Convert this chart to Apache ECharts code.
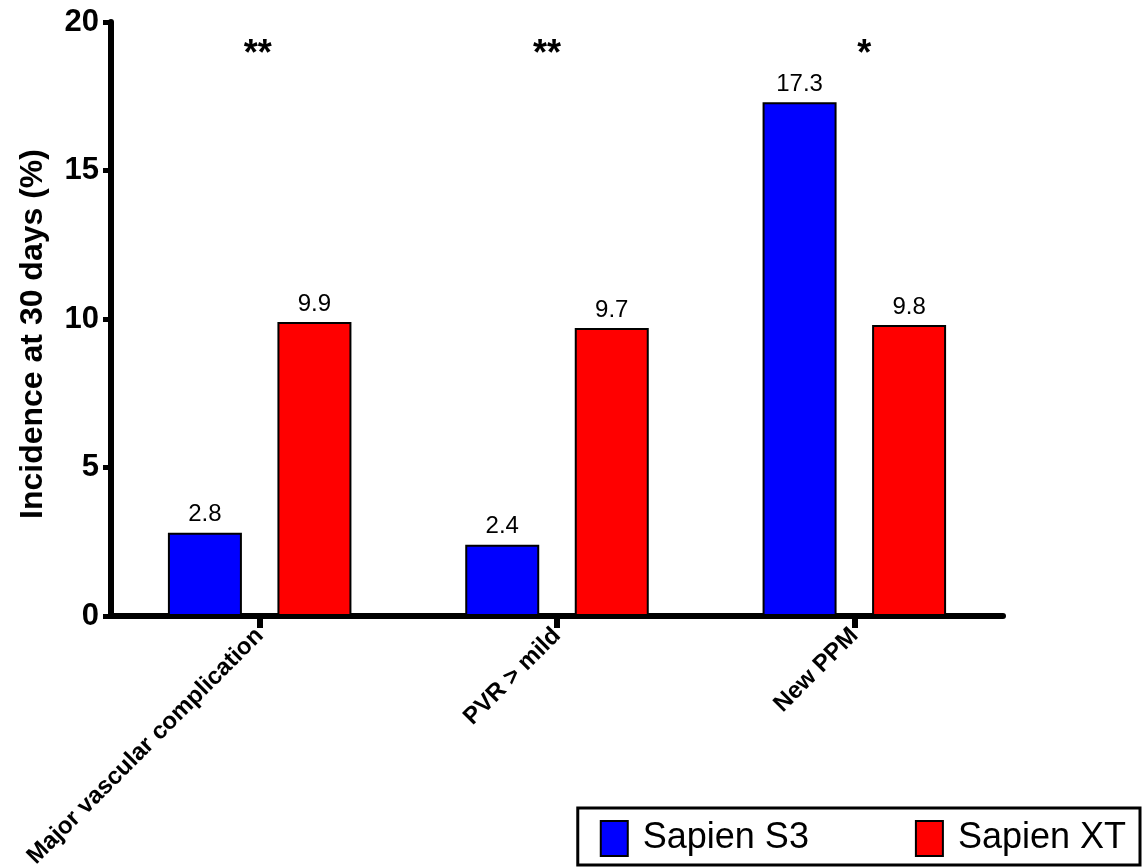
<!DOCTYPE html>
<html>
<head>
<meta charset="utf-8">
<script src="https://cdn.jsdelivr.net/npm/echarts@6/dist/echarts.min.js"></script>
<style>
html,body{margin:0;padding:0;background:#fff;}
#chart{width:1147px;height:867px;}
</style>
</head>
<body>
<div id="chart"></div>
<script>
var categories = ['Major vascular complication', 'PVR > mild', 'New PPM'];
var sapienS3 = [2.8, 2.4, 17.3];
var sapienXT = [9.9, 9.7, 9.8];
var sigMarks = ['**', '**', '*'];
var sigLevel = [19, 19, 19];
var yTicks = [0, 5, 10, 15, 20];

var FONT = 'Liberation Sans, Arial, Helvetica, sans-serif';
var chart = echarts.init(document.getElementById('chart'));
var sigOffsets = [-2, -10, 10];

chart.setOption({
  animation: false,
  backgroundColor: '#fff',
  grid: { left: 111, right: 144, top: 22, bottom: 251, containLabel: false, outerBoundsMode: 'none' },
  legend: {
    data: ['Sapien S3', 'Sapien XT'],
    right: 7, bottom: 2,
    orient: 'horizontal',
    borderColor: '#000', borderWidth: 3,
    padding: [12, 14, 8, 22],
    itemWidth: 27, itemHeight: 35, itemGap: 106,
    icon: 'rect',
    textStyle: { fontFamily: FONT, fontSize: 36, color: '#000', padding: [0, 0, 0, 10] }
  },
  xAxis: {
    type: 'category',
    data: categories,
    axisLine: { lineStyle: { color: '#000', width: 6 } },
    axisTick: { show: true, alignWithLabel: true, length: 12, lineStyle: { color: '#000', width: 6 } },
    axisLabel: { rotate: 45, interval: 0, margin: 16, color: '#000', fontFamily: FONT, fontWeight: 'bold', fontSize: 24 },
    splitLine: { show: false }
  },
  yAxis: {
    type: 'value',
    min: 0, max: 20, interval: 5,
    name: 'Incidence at 30 days (%)',
    nameLocation: 'middle',
    nameGap: 62,
    nameTextStyle: { fontFamily: FONT, fontWeight: 'bold', fontSize: 32, color: '#000', padding: [0, 30, 0, 0] },
    axisLine: { show: true, lineStyle: { color: '#000', width: 6 } },
    axisTick: { show: true, length: 8, lineStyle: { color: '#000', width: 5 } },
    axisLabel: {
      margin: 12, color: '#000', fontFamily: FONT, fontWeight: 'bold', fontSize: 31,
      formatter: function (v) { return yTicks.indexOf(v) >= 0 ? String(v) : ''; }
    },
    splitLine: { show: false }
  },
  series: [
    {
      name: 'Sapien S3', type: 'bar', data: sapienS3,
      barWidth: 74, barGap: '48%',
      itemStyle: { color: '#0000FF', borderColor: '#000', borderWidth: 2 },
      label: { show: true, position: 'top', distance: 6, color: '#000', fontFamily: FONT, fontSize: 24,
        formatter: function (p) { return p.value.toFixed(1); } }
    },
    {
      name: 'Sapien XT', type: 'bar', data: sapienXT,
      barWidth: 74,
      itemStyle: { color: '#FF0000', borderColor: '#000', borderWidth: 2 },
      label: { show: true, position: 'top', distance: 6, color: '#000', fontFamily: FONT, fontSize: 24,
        formatter: function (p) { return p.value.toFixed(1); } }
    },
    {
      name: 'sig', type: 'scatter', symbolSize: 0, silent: true,
      itemStyle: { color: '#000', opacity: 1 },
      data: sigLevel.map(function (v, i) {
        return { value: [categories[i], v], label: { offset: [sigOffsets[i], 3] } };
      }),
      label: { show: true, position: 'inside', color: '#000', opacity: 1, textBorderWidth: 0, textBorderColor: 'transparent',
        fontFamily: FONT, fontWeight: 'bold', fontSize: 36,
        formatter: function (p) { return sigMarks[p.dataIndex]; } }
    }
  ]
});
</script>
</body>
</html>
